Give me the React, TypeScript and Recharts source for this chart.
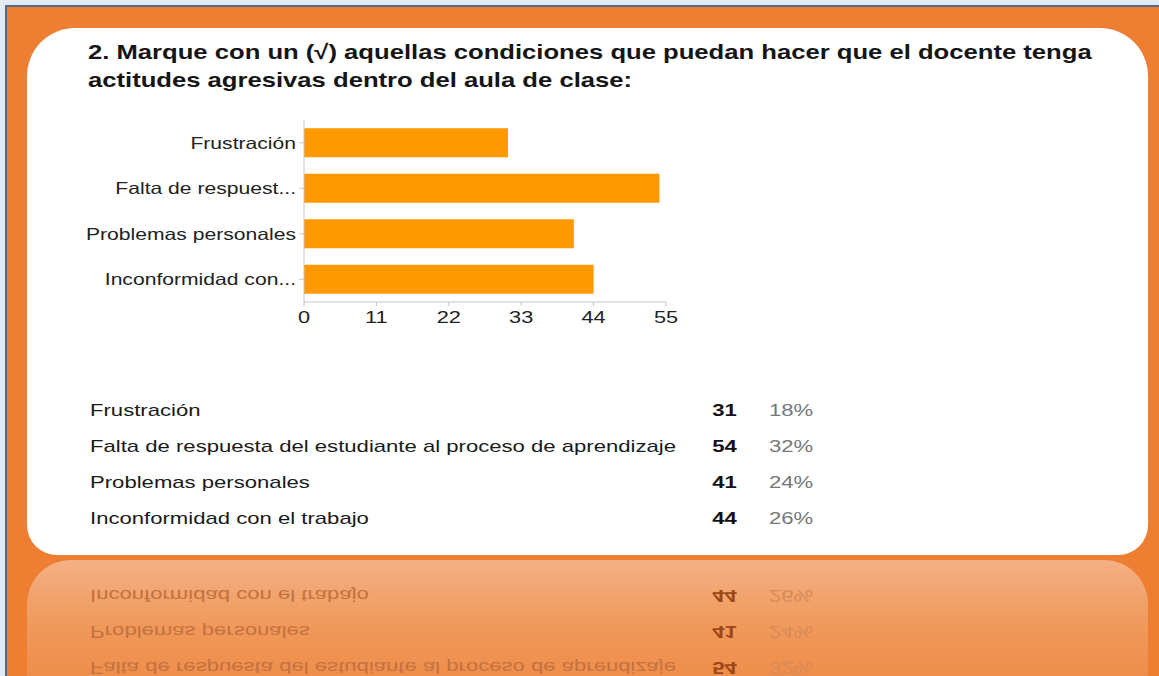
import { Bar, BarChart, XAxis, YAxis } from 'recharts';

const fullLabels = [
  'Frustración',
  'Falta de respuesta del estudiante al proceso de aprendizaje',
  'Problemas personales',
  'Inconformidad con el trabajo',
];
const tickLabels = ['Frustración', 'Falta de respuest...', 'Problemas personales', 'Inconformidad con...'];
const counts = [31, 54, 41, 44];
const percents = ['18%', '32%', '24%', '26%'];
const xTicks = [0, 11, 22, 33, 44, 55];

const FONT = '"Liberation Sans", Arial, Helvetica, sans-serif';
const ROW_GAP = 36;
// the source picture is stretched sideways, so text is widened to match
const STRETCH = 1.28;
const ROW_STRETCH = 1.3;

const data = tickLabels.map((name, i) => ({ name, value: counts[i] }));

function YTick(props: any) {
  const { x, y, payload } = props;
  return (
    <text
      transform={`translate(${x},${y}) scale(${STRETCH},1)`}
      textAnchor="end"
      dy="0.36em"
      fontSize={16.5}
      fill="#222"
      fontFamily={FONT}
    >
      {payload.value}
    </text>
  );
}

function XTick(props: any) {
  const { x, y, payload } = props;
  return (
    <text
      transform={`translate(${x},${y}) scale(${STRETCH},1)`}
      textAnchor="middle"
      dy="0.9em"
      fontSize={17}
      fill="#222"
      fontFamily={FONT}
    >
      {payload.value}
    </text>
  );
}

function Rows({ color, numColor, pctColor }: { color: string; numColor: string; pctColor: string }) {
  return (
    <>
      {fullLabels.map((label, i) => (
        <div
          key={label}
          style={{
            position: 'absolute',
            left: 0,
            top: i * ROW_GAP,
            width: 760,
            height: 24,
            lineHeight: '24px',
            fontSize: 17,
            whiteSpace: 'nowrap',
          }}
        >
          <span
            style={{
              position: 'absolute',
              left: 0,
              color,
              transform: `scaleX(${ROW_STRETCH})`,
              transformOrigin: 'left center',
            }}
          >
            {label}
          </span>
          <span
            style={{
              position: 'absolute',
              right: 113,
              fontWeight: 'bold',
              color: numColor,
              transform: `scaleX(${ROW_STRETCH})`,
              transformOrigin: 'right center',
            }}
          >
            {counts[i]}
          </span>
          <span
            style={{
              position: 'absolute',
              left: 679,
              color: pctColor,
              transform: `scaleX(${ROW_STRETCH})`,
              transformOrigin: 'left center',
            }}
          >
            {percents[i]}
          </span>
        </div>
      ))}
    </>
  );
}

export default function App() {
  return (
    <div
      style={{
        position: 'absolute',
        left: 0,
        top: 0,
        width: 1159,
        height: 676,
        overflow: 'hidden',
        background: '#e4eaf1',
        fontFamily: FONT,
      }}
    >
      <div
        style={{
          position: 'absolute',
          left: 5,
          top: 5,
          right: 0,
          bottom: 0,
          borderLeft: '2px solid #4e6c93',
          borderTop: '2px solid #4e6c93',
          background: '#ee7f32',
        }}
      />
      {/* reflection */}
      <div
        style={{
          position: 'absolute',
          left: 27,
          top: 560,
          width: 1121,
          height: 140,
          borderRadius: '44px 44px 0 0',
          background: 'linear-gradient(#f4b085, #f09a5c 45%, #ee8843)',
          overflow: 'hidden',
        }}
      >
        <div
          style={{
            position: 'absolute',
            left: 63,
            top: 5,
            width: 760,
            height: 150,
            transform: 'scaleY(-1)',
            transformOrigin: 'center center',
          }}
        >
          <Rows color="#c47240" numColor="#9c4718" pctColor="#d88a58" />
        </div>
      </div>
      {/* card */}
      <div
        style={{
          position: 'absolute',
          left: 27,
          top: 28,
          width: 1121,
          height: 527,
          borderRadius: '48px 48px 30px 30px',
          background: '#ffffff',
        }}
      />
      <div
        style={{
          position: 'absolute',
          left: 88,
          top: 38,
          fontSize: 20.5,
          lineHeight: '28px',
          fontWeight: 'bold',
          color: '#151515',
          whiteSpace: 'nowrap',
          transform: 'scaleX(1.25)',
          transformOrigin: 'left top',
        }}
      >
        2. Marque con un (√) aquellas condiciones que puedan hacer que el docente tenga
        <br />
        actitudes agresivas dentro del aula de clase:
      </div>
      <div style={{ position: 'absolute', left: 80, top: 100 }}>
        <BarChart
          width={620}
          height={240}
          data={data}
          layout="vertical"
          margin={{ top: 20, right: 34, left: 0, bottom: 8 }}
          barCategoryGap="18%"
        >
          <XAxis
            type="number"
            domain={[0, 55]}
            ticks={xTicks}
            interval={0}
            height={30}
            axisLine={{ stroke: '#c4c4c4' }}
            tickLine={{ stroke: '#c4c4c4' }}
            tickSize={4}
            tick={<XTick />}
          />
          <YAxis
            type="category"
            dataKey="name"
            width={224}
            axisLine={{ stroke: '#c4c4c4' }}
            tickLine={{ stroke: '#c4c4c4' }}
            tickSize={5}
            tickMargin={3}
            tick={<YTick />}
          />
          <Bar dataKey="value" fill="#ff9900" isAnimationActive={false} />
        </BarChart>
      </div>
      <div style={{ position: 'absolute', left: 90, top: 399, width: 760, height: 150 }}>
        <Rows color="#1a1a1a" numColor="#111" pctColor="#777" />
      </div>
    </div>
  );
}
